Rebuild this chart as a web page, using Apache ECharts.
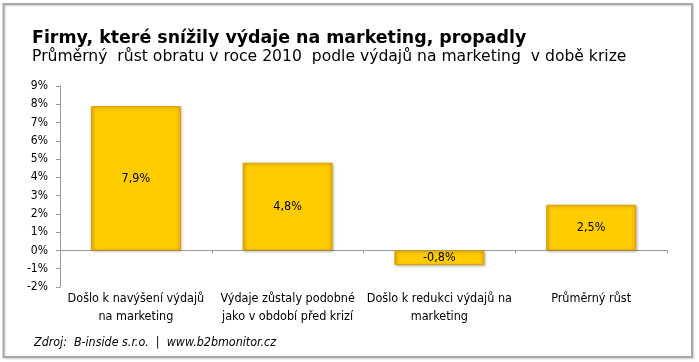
<!DOCTYPE html>
<html><head><meta charset="utf-8">
<script src="https://cdn.jsdelivr.net/npm/echarts@6/dist/echarts.min.js"></script>
<style>html,body{margin:0;padding:0;background:#fff}#c{width:699px;height:362px}</style>
</head><body><div id="c"></div>
<script>
const categories = ["Došlo k navýšení výdajů\nna marketing", "Výdaje zůstaly podobné\njako v období před krizí", "Došlo k redukci výdajů na\nmarketing", "Průměrný růst"];
const values = [7.9, 4.8, -0.8, 2.5];
const titleText = "Firmy, které snížily výdaje na marketing, propadly";
const subtitleText = "Průměrný  růst obratu v roce 2010  podle výdajů na marketing  v době krize";
const sourceText = "Zdroj:  B-inside s.r.o.  |  www.b2bmonitor.cz";

const chart = echarts.init(document.getElementById('c'));
const cond = "'DejaVu Sans Condensed', 'DejaVu Sans', sans-serif";
const wide = "'DejaVu Sans', sans-serif";
chart.setOption({
  animation: false,
  title: [
    {text: titleText, left: 27, top: 25, textStyle: {fontFamily: wide, fontSize: 17.4, fontWeight: 'bold', color: '#000'}},
    {text: subtitleText, left: 27, top: 44, textStyle: {fontFamily: wide, fontSize: 15.6, fontWeight: 'normal', color: '#000'}},
    {text: sourceText, left: 29, top: 332, textStyle: {fontFamily: cond, fontSize: 12.4, fontStyle: 'italic', fontWeight: 'normal', color: '#000'}}
  ],
  graphic: [{type: 'rect', shape: {x: 3.5, y: 4, width: 688.5, height: 353}, style: {fill: 'none', stroke: '#a8a8a8', lineWidth: 2, shadowColor: 'rgba(0,0,0,0.2)', shadowBlur: 2, shadowOffsetX: 1, shadowOffsetY: 1}}],
  grid: {left: 60, right: 32, top: 86, bottom: 75},
  xAxis: {
    type: 'category', data: categories,
    axisLine: {onZero: true, lineStyle: {color: '#999'}},
    axisTick: {show: true, alignWithLabel: false, length: 3, lineStyle: {color: '#999'}},
    axisLabel: {fontFamily: cond, fontSize: 12.5, color: '#000', lineHeight: 18, interval: 0, margin: 3},
    position: 'bottom'
  },
  yAxis: {
    type: 'value', min: -2, max: 9, interval: 1,
    axisLine: {show: true, lineStyle: {color: '#999'}},
    axisTick: {show: true, length: 4, lineStyle: {color: '#999'}},
    splitLine: {show: false},
    axisLabel: {fontFamily: cond, fontSize: 12, color: '#000', formatter: v => v + '%', margin: 12}
  },
  series: [{
    type: 'bar', data: values, barWidth: 90,
    itemStyle: {
      color: {type: 'linear', x: 0, y: 0, x2: 1, y2: 0, colorStops: [
        {offset: 0, color: '#F0B400'}, {offset: 0.06, color: '#FFCC00'}, {offset: 0.94, color: '#FFCC00'}, {offset: 1, color: '#F0B400'}]},
      borderColor: '#E0A400', borderWidth: 1,
      shadowColor: 'rgba(0,0,0,0.3)', shadowBlur: 3, shadowOffsetX: 1, shadowOffsetY: 1
    },
    label: {show: true, position: 'inside', fontFamily: cond, fontSize: 12.5, color: '#000',
      formatter: p => p.value.toFixed(1).replace('.', ',') + '%'}
  }]
});
</script></body></html>
